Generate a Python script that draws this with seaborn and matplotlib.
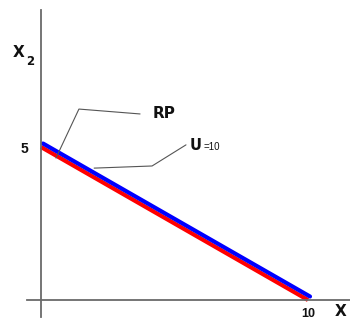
import matplotlib
matplotlib.use("Agg")
import matplotlib.pyplot as plt
import matplotlib.transforms as mtransforms
import seaborn as sns
import pandas as pd

# Budget line (RP) and the U=10 indifference curve, in goods space (X, X2)
budget_x = [0, 10]
budget_y = [5, 0]
indiff_x = [0, 10]
indiff_y = [5, 0]

x_ticks = [10]
x_tick_labels = ["10"]
y_ticks = [5]
y_tick_labels = ["5"]

sns.set_style("white")
plt.rcParams["font.family"] = ["DejaVu Sans"]

fig = plt.figure(figsize=(3.5, 3.27), dpi=100)
ax = fig.add_axes([0, 0, 1, 1])
ax.set_xlim(-1.536, 11.573)
ax.set_ylim(-0.882, 9.804)

axis_color = "#6a6a6a"
for side in ("top", "right"):
    ax.spines[side].set_visible(False)
ax.spines["left"].set_position(("data", 0))
ax.spines["bottom"].set_position(("data", 0))
ax.spines["left"].set_bounds(-0.556, 9.477)
ax.spines["bottom"].set_bounds(-0.524, 11.6)
for side in ("left", "bottom"):
    ax.spines[side].set_color(axis_color)
    ax.spines[side].set_linewidth(1.3)

ax.set_xticks(x_ticks)
ax.set_xticklabels(x_tick_labels)
ax.set_yticks(y_ticks)
ax.set_yticklabels(y_tick_labels)
ax.tick_params(axis="both", length=0, labelcolor="#111111")
ax.tick_params(axis="x", pad=6, labelsize=9)
ax.tick_params(axis="y", pad=9, labelsize=10)
for lab in ax.get_xticklabels() + ax.get_yticklabels():
    lab.set_fontweight("bold")
    lab.set_family("Liberation Sans")

budget = pd.DataFrame({"X": budget_x, "X2": budget_y})
indiff = pd.DataFrame({"X": indiff_x, "X2": indiff_y})

sns.lineplot(data=budget, x="X", y="X2", ax=ax, color="#ff0000",
             linewidth=3.0, solid_capstyle="butt")
# the indifference curve sits on the budget line; nudge it so both stay visible
shifted = mtransforms.offset_copy(ax.transData, fig=fig, x=2, y=3.5, units="dots")
sns.lineplot(data=indiff, x="X", y="X2", ax=ax, color="#0000ff",
             linewidth=3.0, transform=shifted, solid_capstyle="round")
ax.set_xlabel("")
ax.set_ylabel("")

# leader lines for the labels
lead_color = "#555555"
ax.plot([0.56, 1.42, 3.71], [4.64, 6.24, 6.08], color=lead_color, lw=0.8)
ax.plot([1.99, 4.16, 5.43], [4.31, 4.38, 5.07], color=lead_color, lw=0.8)

ax.text(4.19, 5.95, "RP", fontsize=11, fontweight="bold", va="baseline", ha="left",
        color="#111111")
ax.text(5.58, 4.90, "U", fontsize=10.5, fontweight="bold", va="baseline", ha="left",
        color="#111111")
ax.text(6.08, 4.90, "=10", fontsize=7, va="baseline", ha="left", color="#111111",
        family="Liberation Sans")

# axis titles
ax.text(-1.06, 7.94, "X", fontsize=11, fontweight="bold", va="baseline", ha="left",
        color="#111111")
ax.text(-0.55, 7.68, "2", fontsize=8.5, fontweight="bold", va="baseline", ha="left",
        color="#111111")
ax.text(11.0, -0.52, "X", fontsize=11, fontweight="bold", va="baseline", ha="left",
        color="#111111")

fig.savefig("out.png", dpi=100)
